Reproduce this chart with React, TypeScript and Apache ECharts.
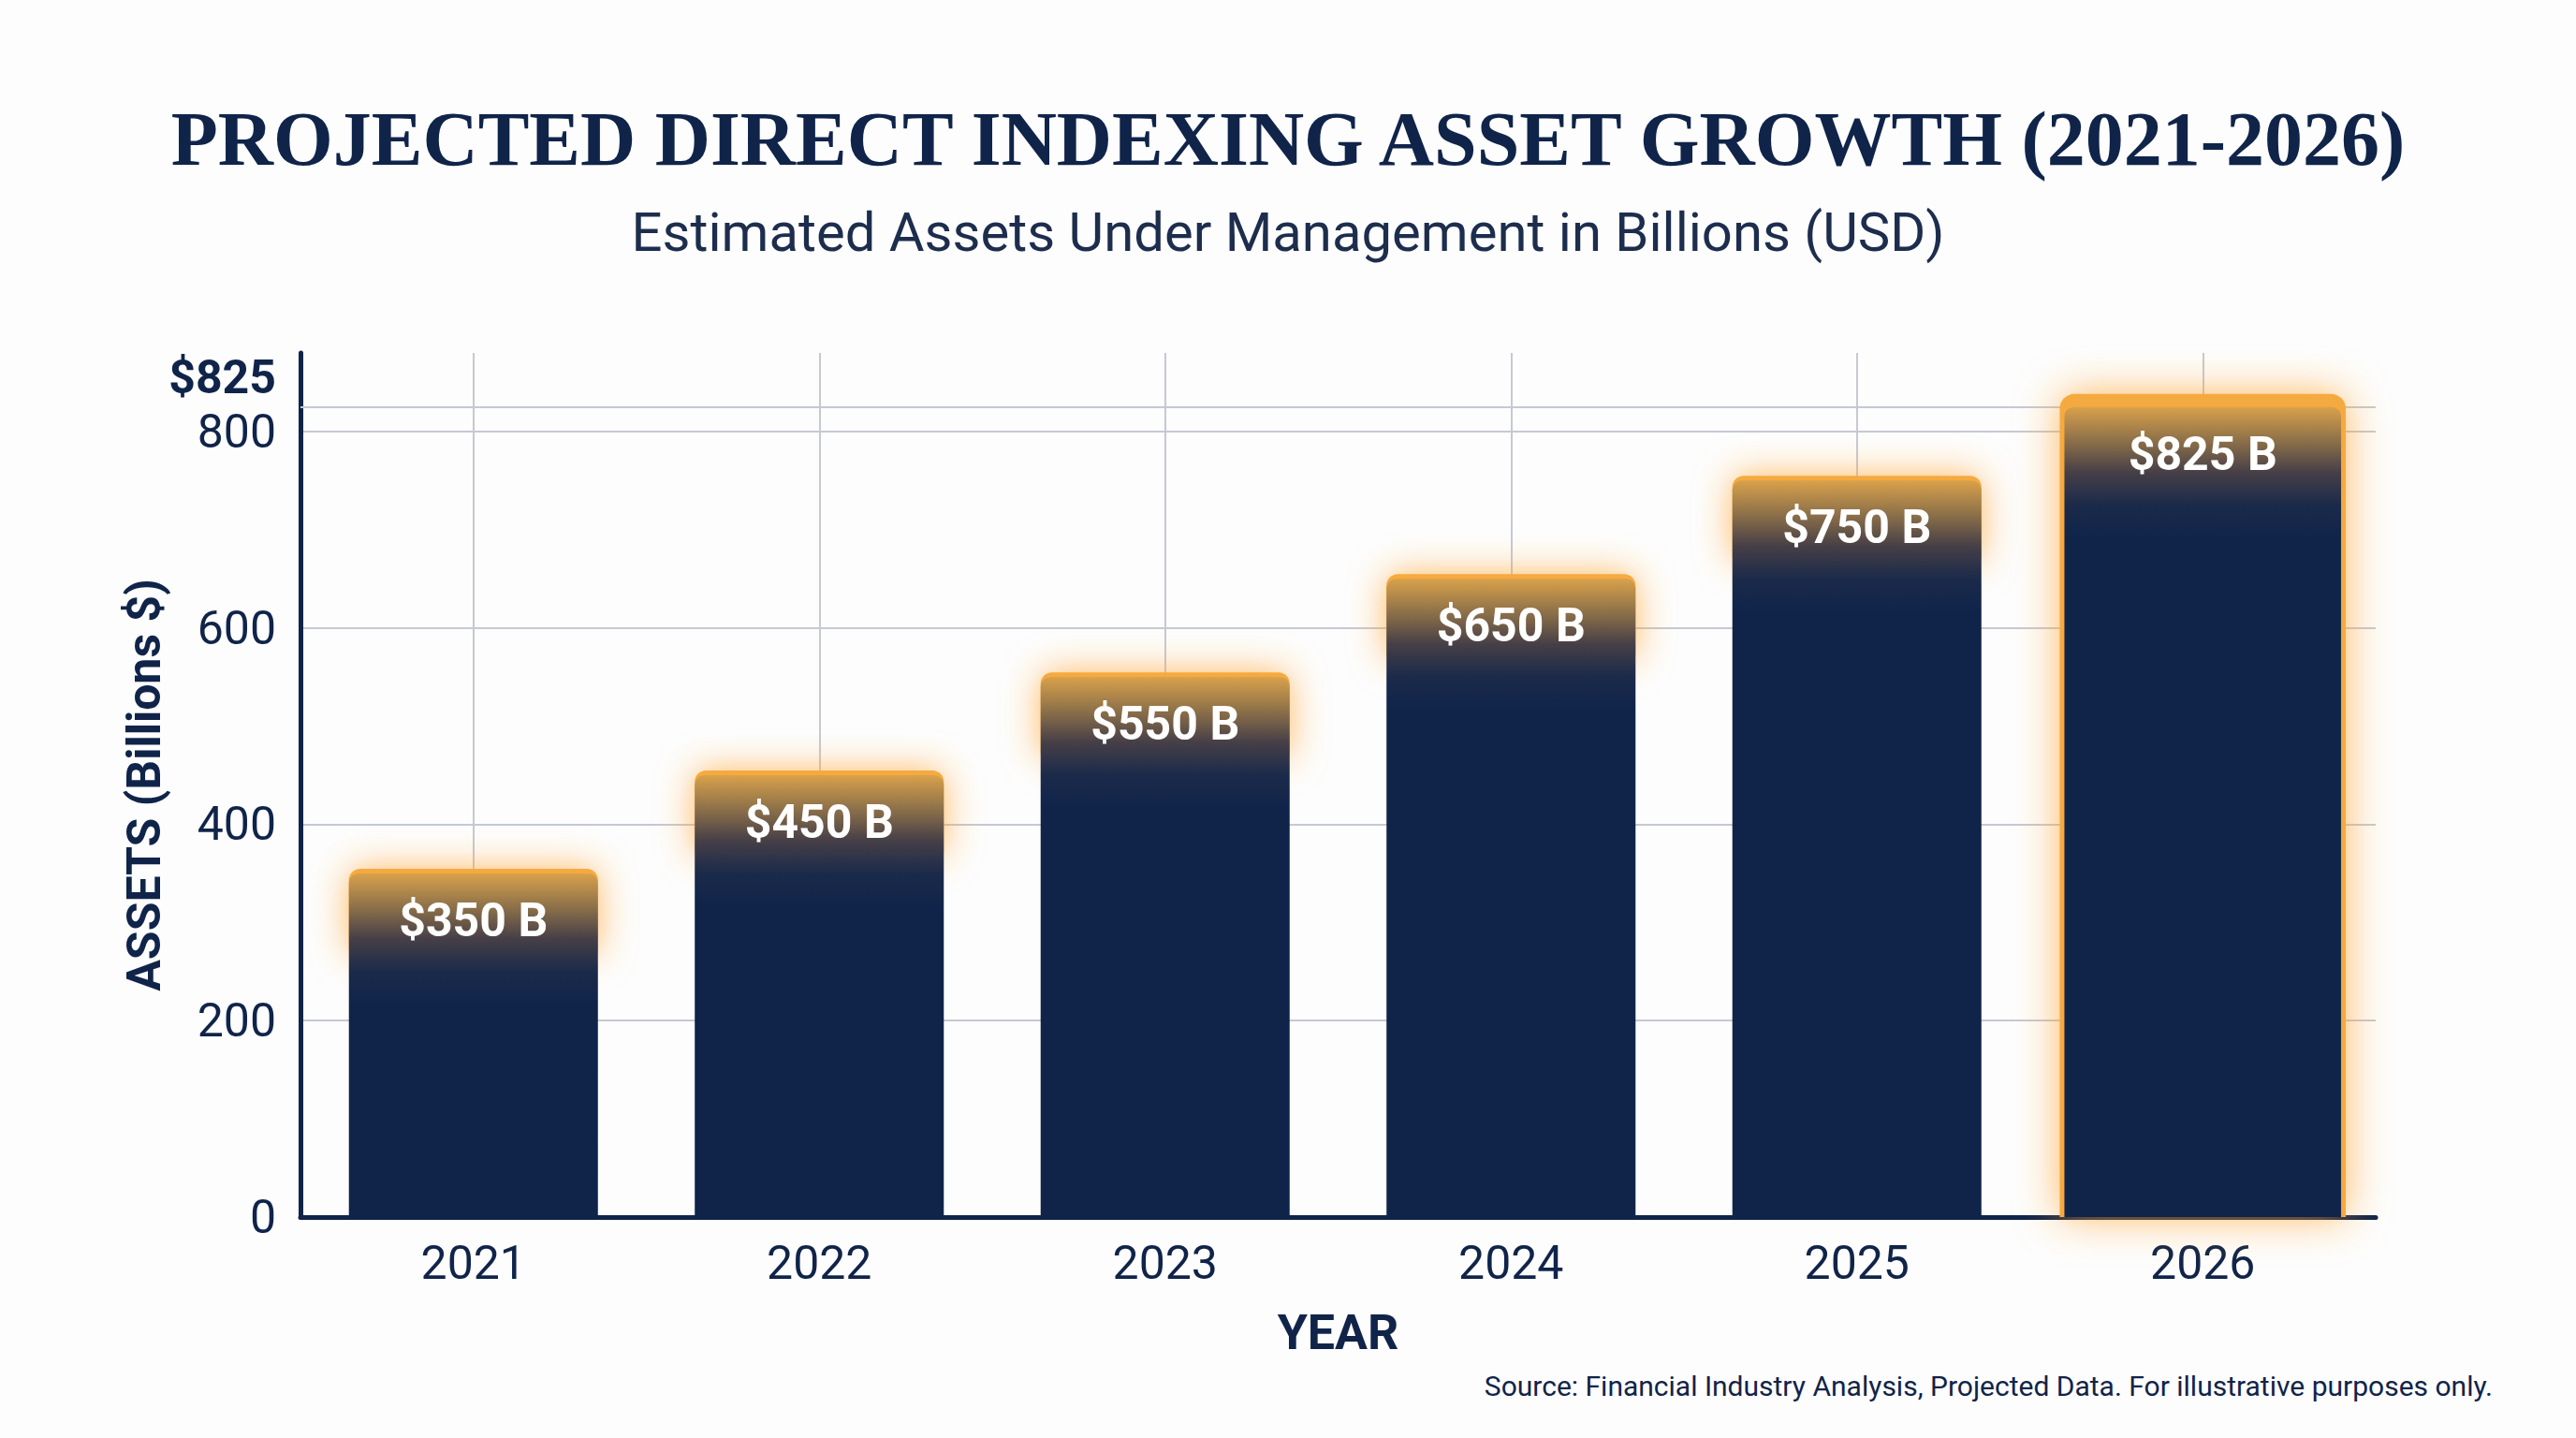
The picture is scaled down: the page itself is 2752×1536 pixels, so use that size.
import React, { useEffect, useRef } from 'react';
import * as echarts from 'echarts';

// chart data
const years = ['2021', '2022', '2023', '2024', '2025', '2026'];
const assets = [350, 450, 550, 650, 750, 825];
const yTicks = [0, 200, 400, 600, 800];
const peakLine = 825;
const highlightYear = '2026';

const NAVY = '#10244a';
const GOLD = '#f5aa3f';

// top of each bar fades from gold into navy over a fixed pixel depth
function fadeStops(h: number) {
  const at = (px: number) => Math.min(1, px / h);
  return [
    { offset: 0, color: '#d9a14b' },
    { offset: at(35), color: '#8f7249' },
    { offset: at(70), color: '#463f47' },
    { offset: at(105), color: '#1b2a4a' },
    { offset: at(140), color: NAVY },
    { offset: 1, color: NAVY },
  ];
}

function App() {
  const chartRef = useRef<HTMLDivElement>(null);

  useEffect(() => {
    if (!chartRef.current) return undefined;

    const option = {
      animation: false,
      backgroundColor: '#fdfdfd',
      title: [
        {
          text: 'PROJECTED DIRECT INDEXING ASSET GROWTH (2021-2026)',
          subtext: 'Estimated Assets Under Management in Billions (USD)',
          left: 'center',
          top: 102,
          itemGap: 30,
          textStyle: {
            fontFamily: 'Liberation Serif',
            fontWeight: 'bold',
            fontSize: 82,
            color: NAVY,
          },
          subtextStyle: {
            fontFamily: 'Roboto',
            fontSize: 58,
            color: '#1d2d4d',
          },
        },
        {
          text: 'Source: Financial Industry Analysis, Projected Data. For illustrative purposes only.',
          right: 84,
          top: 1460,
          textStyle: {
            fontFamily: 'Roboto',
            fontWeight: 'normal',
            fontSize: 30,
            color: NAVY,
          },
        },
      ],
      grid: {
        left: 321,
        right: 214,
        top: 377,
        bottom: 236,
        containLabel: false,
        outerBoundsMode: 'none',
      },
      xAxis: {
        type: 'category',
        data: years,
        name: 'YEAR',
        nameLocation: 'middle',
        nameGap: 97,
        nameTextStyle: {
          fontFamily: 'Roboto',
          fontWeight: 'bold',
          fontSize: 52,
          color: NAVY,
        },
        axisLine: { show: true, lineStyle: { color: NAVY, width: 5 } },
        axisTick: { show: false },
        axisLabel: {
          fontFamily: 'Roboto',
          fontSize: 50,
          color: NAVY,
          margin: 24,
        },
        splitLine: {
          show: true,
          alignWithLabel: true,
          lineStyle: { color: '#c5c9d2', width: 2 },
        },
      },
      yAxis: {
        type: 'value',
        min: 0,
        max: 880,
        interval: 200,
        name: 'ASSETS (Billions $)',
        nameLocation: 'middle',
        nameGap: 142,
        nameTextStyle: {
          fontFamily: 'Roboto',
          fontWeight: 'bold',
          fontSize: 50,
          color: NAVY,
        },
        axisLine: { show: true, lineStyle: { color: NAVY, width: 5 } },
        axisTick: { show: false },
        axisLabel: {
          fontFamily: 'Roboto',
          fontSize: 50,
          color: NAVY,
          margin: 26,
          showMaxLabel: false,
          formatter: (v: number) => (yTicks.includes(v) ? String(v) : ''),
        },
        splitLine: {
          show: true,
          showMaxLine: false,
          lineStyle: { color: '#c5c9d2', width: 2 },
        },
      },
      series: [
        {
          // holds only the peak reference line, kept under the bars
          type: 'line',
          data: [],
          z: 1,
          silent: true,
          markLine: {
            silent: true,
            symbol: 'none',
            animation: false,
            lineStyle: { color: '#c5c9d2', width: 2, type: 'solid' },
            label: {
              position: 'start',
              formatter: `$${peakLine}`,
              fontFamily: 'Roboto',
              fontWeight: 'bold',
              fontSize: 50,
              color: NAVY,
              distance: 26,
              offset: [0, -32],
            },
            data: [{ yAxis: peakLine }],
          },
        },
        {
          type: 'custom',
          z: 5,
          data: assets.map((v, i) => [i, v]),
          encode: { x: 0, y: 1 },
          renderItem: (params: any, api: any) => {
            const cat = api.value(0);
            const val = api.value(1);
            const top = api.coord([cat, val]);
            const base = api.coord([cat, 0]);
            const band = api.size([1, 0])[0];
            const hi = years[params.dataIndex] === highlightYear;
            const w = band * (hi ? 0.8 : 0.72);
            const x = top[0] - w / 2;
            const h = base[1] - top[1];

            const glow = hi
              ? {
                  type: 'rect',
                  shape: { x: x - 5, y: top[1] - 14, width: w + 10, height: h + 14, r: [16, 16, 0, 0] },
                  style: { fill: GOLD, shadowBlur: 45, shadowColor: 'rgba(255,160,40,0.75)' },
                }
              : {
                  type: 'rect',
                  shape: { x, y: top[1] - 5, width: w, height: 90, r: [12, 12, 4, 4] },
                  style: { fill: GOLD, shadowBlur: 38, shadowColor: 'rgba(255,160,40,0.75)' },
                };

            const body = {
              type: 'rect',
              shape: { x, y: top[1], width: w, height: h, r: [10, 10, 0, 0] },
              style: { fill: new echarts.graphic.LinearGradient(0, 0, 0, 1, fadeStops(h)) },
            };

            const label = {
              type: 'text',
              x: top[0],
              y: top[1] + 50,
              style: {
                text: `$${val} B`,
                fill: '#ffffff',
                font: 'bold 50px Roboto',
                align: 'center',
                verticalAlign: 'middle',
              },
            };

            return { type: 'group', children: [glow, body, label] };
          },
        },
      ],
    };

    const myChart = echarts.init(chartRef.current, null, { renderer: 'svg' });
    myChart.setOption(option as any);

    const resizeHandler = () => {
      myChart.resize();
    };
    window.addEventListener('resize', resizeHandler);

    return () => {
      myChart.dispose();
      window.removeEventListener('resize', resizeHandler);
    };
  }, []);

  return (
    <div
      ref={chartRef}
      style={{
        position: 'fixed',
        left: 0,
        top: 0,
        width: '100vw',
        height: '100vh',
      }}
    />
  );
}

export default App;
